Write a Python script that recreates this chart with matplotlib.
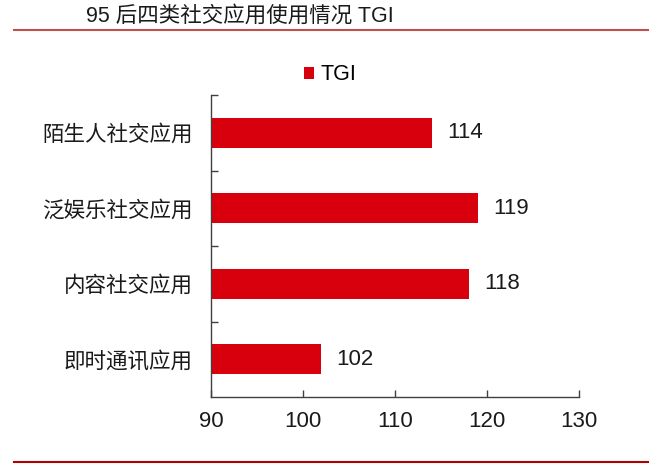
import matplotlib
matplotlib.use('Agg')
import matplotlib.pyplot as plt
from matplotlib.lines import Line2D

plt.rcParams['font.family'] = ['Liberation Sans', 'Noto Sans CJK SC', 'DejaVu Sans']
plt.rcParams['axes.unicode_minus'] = False

categories = ['陌生人社交应用', '泛娱乐社交应用', '内容社交应用', '即时通讯应用']
tgi = [114, 119, 118, 102]
xticks = [90, 100, 110, 120, 130]

bar_color = '#D9000D'
axis_color = '#404040'

fig = plt.figure(figsize=(6.6, 4.72), dpi=100)
ax = fig.add_axes([211 / 660, 1 - 397 / 472, 368 / 660, 302 / 472])

pos = list(range(len(categories)))[::-1]
ax.barh(pos, tgi, height=0.4, color=bar_color, label='TGI', zorder=2)
for p, v in zip(pos, tgi):
    ax.annotate(str(v), (v, p), xytext=(11, 0), textcoords='offset points',
                va='center', ha='left', fontsize=16, color='#1a1a1a')

ax.set_xlim(90, 130)
ax.set_ylim(-0.5, len(categories) - 0.5)
ax.set_xticks(xticks)
ax.set_xticklabels([str(t) for t in xticks], fontsize=16, color='#1a1a1a')
ax.set_yticks(pos)
ax.set_yticklabels(categories, fontsize=15.5, color='#1a1a1a')
ax.set_yticks([p + 0.5 for p in range(len(categories))], minor=True)

ax.tick_params(axis='y', which='major', length=0, pad=13)
ax.tick_params(axis='y', which='minor', direction='in', length=5, width=1, color=axis_color)
ax.tick_params(axis='x', which='major', direction='in', length=5, width=1, color=axis_color, pad=10)

for s in ['top', 'right']:
    ax.spines[s].set_visible(False)
for s in ['left', 'bottom']:
    ax.spines[s].set_color(axis_color)
    ax.spines[s].set_linewidth(1)

leg = ax.legend(loc='center', bbox_to_anchor=(0.5, 1 - 75 / 472), bbox_transform=fig.transFigure,
                frameon=False, fontsize=15.5, handlelength=0.45, handleheight=0.45, handletextpad=0.3)

fig.text(86 / 660, 1 - 16 / 472, '95 后四类社交应用使用情况 TGI', fontsize=15.5,
         ha='left', va='center', color='#1a1a1a')
fig.add_artist(Line2D([14 / 660, 648 / 660], [1 - 30 / 472, 1 - 30 / 472],
                      transform=fig.transFigure, color='#C0504D', linewidth=1.5))
fig.add_artist(Line2D([14 / 660, 648 / 660], [1 - 462 / 472, 1 - 462 / 472],
                      transform=fig.transFigure, color='#B00000', linewidth=1.5))

fig.savefig('out.png', dpi=100)
